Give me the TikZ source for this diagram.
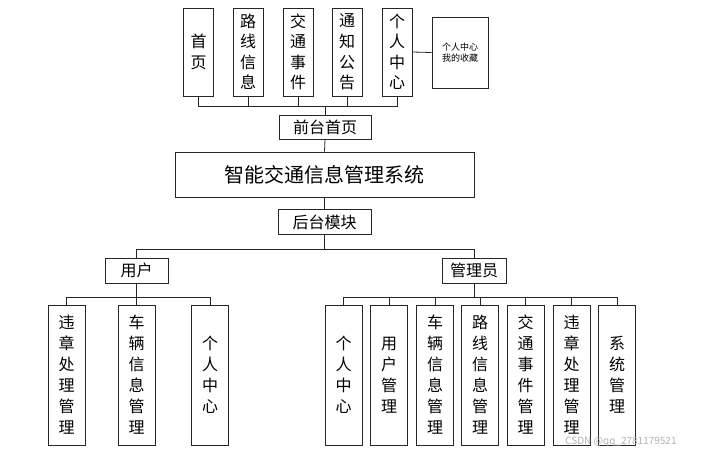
\documentclass[tikz,border=0pt]{standalone}
\usepackage{fontspec}
\setmainfont{Noto Sans CJK SC}
\begin{document}
\begin{tikzpicture}[x=1pt,y=-1pt,
  box/.style={draw=black!85,line width=0.9pt,fill=white,inner sep=0pt,align=center},
  vbox/.style={box,minimum width=30pt,minimum height=88pt,font=\fontsize{16}{20.5}\selectfont},
  lbox/.style={box,minimum width=37pt,minimum height=140pt,font=\fontsize{16}{21}\selectfont},
  hbox/.style={box,font=\fontsize{16}{18}\selectfont},
  conn/.style={draw=black!85,line width=0.8pt}]
\useasboundingbox (0,0) rectangle (714,456);
% top boxes
\node[vbox] (sy) at (198.5,52) {首\\页};
\node[vbox] (lx) at (248,52) {路\\线\\信\\息};
\node[vbox] (jt) at (298,52) {交\\通\\事\\件};
\node[vbox] (tz) at (347,52) {通\\知\\公\\告};
\node[vbox] (gr) at (397,52) {个\\人\\中\\心};
\node[box,minimum width=56pt,minimum height=71pt,font=\fontsize{9}{11}\selectfont] (side) at (460,52.5) {个人中心\\我的收藏};
\node[hbox,minimum width=92pt,minimum height=24pt] (qt) at (325,127) {前台首页};
\node[box,minimum width=299pt,minimum height=45pt,font=\fontsize{20}{22}\selectfont] (main) at (324.5,174.5) {智能交通信息管理系统};
\node[hbox,minimum width=93pt,minimum height=25pt] (ht) at (324.5,222) {后台模块};
\node[hbox,minimum width=63pt,minimum height=25pt] (yh) at (136.5,270.5) {用户};
\node[hbox,minimum width=64pt,minimum height=25pt] (gly) at (474,270.5) {管理员};
% user children
\node[lbox] (u1) at (66.5,375) {违\\章\\处\\理\\管\\理};
\node[lbox] (u2) at (136.5,375) {车\\辆\\信\\息\\管\\理};
\node[lbox] (u3) at (210,375) {个\\人\\中\\心};
% admin children
\node[lbox] (a1) at (343.5,375) {个\\人\\中\\心};
\node[lbox] (a2) at (389,375) {用\\户\\管\\理};
\node[lbox] (a3) at (435,375) {车\\辆\\信\\息\\管\\理};
\node[lbox] (a4) at (480,375) {路\\线\\信\\息\\管\\理};
\node[lbox] (a5) at (525.5,375) {交\\通\\事\\件\\管\\理};
\node[lbox] (a6) at (571.5,375) {违\\章\\处\\理\\管\\理};
\node[lbox] (a7) at (617,375) {系\\统\\管\\理};
% connectors
\coordinate (tb) at (325,106);
\foreach \n in {sy,lx,jt,tz,gr} \draw[conn] (\n.south) |- (tb);
\draw[conn] (tb) -- (qt.north);
\draw[conn] (gr.east) -- (side.west);
\draw[conn] (qt.south) -- (main.north);
\draw[conn] (main.south) -- (ht.north);
\coordinate (mb) at (324.5,249);
\draw[conn] (ht.south) -- (mb);
\draw[conn] (yh.north) |- (mb);
\draw[conn] (gly.north) |- (mb);
\coordinate (ub) at (136.5,297);
\draw[conn] (yh.south) -- (ub);
\foreach \n in {u1,u2,u3} \draw[conn] (\n.north) |- (ub);
\coordinate (ab) at (474,297);
\draw[conn] (gly.south) -- (ab);
\foreach \n in {a1,a2,a3,a4,a5,a6,a7} \draw[conn] (\n.north) |- (ab);
\node[anchor=west,text=black!30,font=\fontsize{10}{12}\selectfont,inner sep=0pt] (wm) at (565,442) {CSDN @qq\_2781179521};
\end{tikzpicture}
\end{document}
